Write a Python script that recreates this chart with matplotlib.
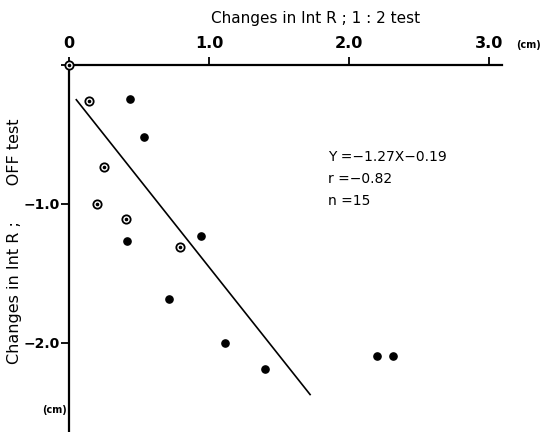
import numpy as np
import matplotlib
matplotlib.use("Agg")
import matplotlib.pyplot as plt

plt.rcParams['font.family'] = ['DejaVu Sans']

# circled points (open circle with centre dot)
open_x = [0.0, 0.14, 0.25, 0.20, 0.405, 0.79]
open_y = [0.0, -0.26, -0.735, -1.0, -1.11, -1.31]
# filled points
filled_x = [0.43, 0.535, 0.41, 0.94, 0.71, 1.11, 1.40, 2.20, 2.31]
filled_y = [-0.25, -0.52, -1.27, -1.235, -1.69, -2.0, -2.19, -2.10, -2.10]

slope, intercept = -1.27, -0.19
fit_x = [0.05, 1.72]

xticks = [0, 1, 2, 3]
xtick_labels = ["0", "1.0", "2.0", "3.0"]
yticks = [0, -1, -2]
ytick_labels = ["", "\u22121.0", "\u22122.0"]

fig = plt.figure(figsize=(5.43, 4.32), dpi=100)
ax = fig.add_axes([69.3 / 543, 0.0, (502 - 69.3) / 543, 1 - 64.5 / 432])
ax.set_xlim(0, (502 - 69.3) / 140)
ax.set_ylim(-(432 - 64.5) / 139, 0)

# spines: only top and left
for s in ["right", "bottom"]:
    ax.spines[s].set_visible(False)
for s in ["top", "left"]:
    ax.spines[s].set_linewidth(1.6)

ax.xaxis.tick_top()
ax.xaxis.set_label_position("top")
ax.set_xticks(xticks)
ax.set_xticklabels(xtick_labels, fontsize=11.5, fontweight="bold")
ax.set_yticks(yticks)
ax.set_yticklabels(ytick_labels, fontsize=10, fontweight="bold")
ax.tick_params(axis="x", direction="out", length=6, width=1.3, pad=4)
ax.tick_params(axis="y", direction="out", length=6, width=1.3, pad=1)

ax.set_xlabel("Changes in Int R ; 1 : 2 test", fontsize=11)
ax.xaxis.set_label_coords(0.568, 1.113)
ax.set_ylabel("Changes in Int R ;       OFF test", fontsize=11.5)
ax.yaxis.set_label_coords(-0.11, 0.52)

# regression line
fx = np.array(fit_x)
ax.plot(fx, slope * fx + intercept, color="black", lw=1.2)

# points
ax.plot(filled_x, filled_y, "o", color="black", ms=5.2, clip_on=False)
ax.plot(open_x, open_y, "o", mfc="white", mec="black", mew=1.3, ms=6.0,
        clip_on=False, zorder=4)
ax.plot(open_x, open_y, "o", color="black", ms=1.6, clip_on=False, zorder=5)

# equation block
eq_lines = ["Y =\u22121.27X\u22120.19", "r =\u22120.82", "n =15"]
for i, t in enumerate(eq_lines):
    ax.text(328 / 543, 1 - (156.7 + 22 * i) / 432, t, transform=fig.transFigure,
            fontsize=10, va="center", ha="left")

# unit labels
fig.text(516 / 543, 1 - 45 / 432, "(cm)", fontsize=7, fontweight="bold",
         va="center", ha="left")
fig.text(67 / 543, 1 - 410 / 432, "(cm)", fontsize=7, fontweight="bold",
         va="center", ha="right")

fig.savefig("out.png", dpi=100)
